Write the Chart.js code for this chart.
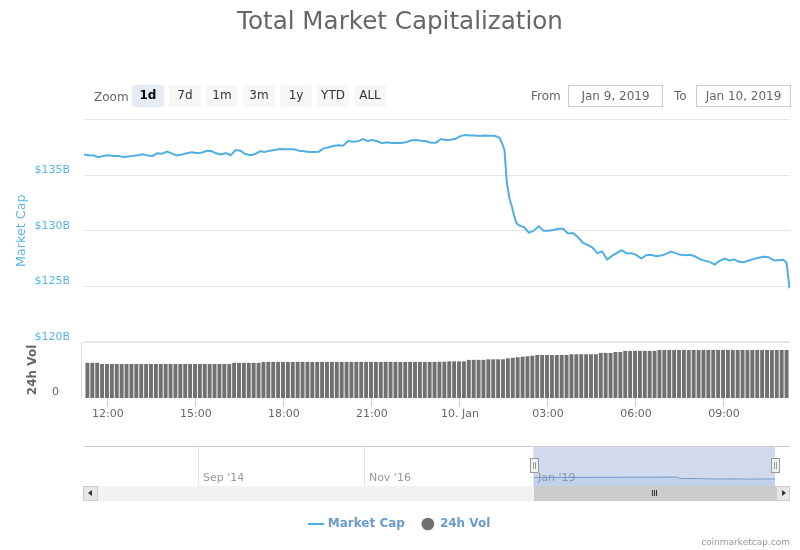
<!DOCTYPE html>
<html><head><meta charset="utf-8">
<script src="https://cdn.jsdelivr.net/npm/chart.js@4"></script>
<style>
html,body{margin:0;padding:0;background:#fff;width:800px;height:550px;overflow:hidden;font-family:"DejaVu Sans",sans-serif}
canvas{position:absolute;left:0}
.a{position:absolute;box-sizing:border-box}
.btn{top:85px;height:22px;width:32px;background:#f7f7f7;color:#333;font-size:12px;line-height:21px;text-align:center;border-radius:2px}
.btn.on{background:#e6ebf5;font-weight:bold;color:#000}
.lbl{color:#666;font-size:12px;line-height:22px;top:85px}
.inp{top:85px;height:22px;width:95px;border:1px solid #ccc;color:#666;font-size:12px;line-height:20px;text-align:center}
.handle{top:458px;width:9px;height:15px;background:#f2f2f2;border:1px solid #999}
.handle i{position:absolute;top:3px;height:7px;width:1px;background:#999}
</style></head><body>
<canvas id="main" width="800" height="440" style="top:0"></canvas>
<canvas id="nav" width="800" height="100" style="top:440px"></canvas>

<div class="a lbl" style="left:94px;top:86px">Zoom</div>
<div class="a btn on" style="left:132px">1d</div>
<div class="a btn" style="left:169px">7d</div>
<div class="a btn" style="left:206px">1m</div>
<div class="a btn" style="left:243px">3m</div>
<div class="a btn" style="left:280px">1y</div>
<div class="a btn" style="left:317px">YTD</div>
<div class="a btn" style="left:354px">ALL</div>
<div class="a lbl" style="left:531px">From</div>
<div class="a inp" style="left:568px">Jan 9, 2019</div>
<div class="a lbl" style="left:674px">To</div>
<div class="a inp" style="left:696px">Jan 10, 2019</div>

<div class="a" style="left:81px;top:342px;width:1px;height:56px;background:#ddd"></div>

<div class="a" style="left:534px;top:447px;width:241px;height:39px;background:rgba(102,133,194,.3)"></div>
<div class="a" style="left:83px;top:501px;width:707px;height:5px;background:#fff"></div>
<div class="a" style="left:83px;top:486px;width:707px;height:15px;background:#f2f2f2"></div>
<div class="a" style="left:534px;top:486px;width:242px;height:15px;background:#ccc"></div>
<div class="a" style="left:652px;top:490px;width:1px;height:6px;background:#333;box-shadow:2px 0 #333,4px 0 #333"></div>
<div class="a" style="left:83px;top:486px;width:15px;height:15px;background:#e6e6e6;border:1px solid #ccc"></div>
<div class="a" style="left:88px;top:490px;width:0;height:0;border:3px solid transparent;border-right:4px solid #333;border-left:0"></div>
<div class="a" style="left:776px;top:486px;width:14px;height:15px;background:#e6e6e6;border:1px solid #ccc"></div>
<div class="a" style="left:782px;top:490px;width:0;height:0;border:3px solid transparent;border-left:4px solid #333;border-right:0"></div>
<div class="a handle" style="left:530px"><i style="left:2px"></i><i style="left:4px"></i></div>
<div class="a handle" style="left:771px"><i style="left:2px"></i><i style="left:4px"></i></div>
<div class="a" style="right:10px;top:535px;font-size:9px;line-height:14px;color:#999">coinmarketcap.com</div>

<script>
const titleText = "Total Market Capitalization";
const seriesNames = ["Market Cap", "24h Vol"];

// minutes after midnight on 9 Jan 2019
const capTimes = [671,681,691,701,711,721,731,741,751,761,771,781,791,801,811,821,831,841,851,861,871,881,891,901,911,921,931,941,951,961,971,981,991,1001,1011,1021,1031,1041,1051,1061,1071,1081,1091,1101,1111,1121,1131,1141,1151,1161,1171,1181,1191,1201,1211,1221,1231,1241,1251,1261,1271,1281,1291,1301,1311,1321,1331,1341,1351,1361,1371,1381,1391,1401,1411,1421,1431,1441,1451,1461,1471,1481,1491,1501,1511,1521,1526,1531,1536,1541,1546,1551,1556,1561,1571,1581,1591,1601,1611,1621,1631,1641,1651,1661,1671,1681,1691,1701,1711,1721,1731,1741,1751,1761,1771,1781,1791,1801,1811,1821,1831,1841,1851,1861,1871,1881,1891,1901,1911,1921,1931,1941,1951,1961,1971,1981,1991,2001,2011,2021,2031,2041,2051,2061,2071,2081,2091,2101,2108,2114];
// $ billions
const capValues = [136.85,136.79,136.76,136.61,136.73,136.79,136.73,136.73,136.64,136.67,136.73,136.79,136.88,136.76,136.73,136.96,136.93,137.11,136.93,136.76,136.85,136.96,137.05,136.99,137.02,137.17,137.17,136.96,136.85,136.99,136.79,137.26,137.20,136.90,136.79,136.90,137.14,137.08,137.20,137.26,137.35,137.32,137.32,137.32,137.20,137.14,137.08,137.08,137.11,137.41,137.50,137.62,137.68,137.65,138.07,138.01,138.04,138.24,138.07,138.15,138.04,137.86,137.95,137.89,137.89,137.89,137.98,138.13,138.15,138.10,138.04,137.92,137.92,138.24,138.15,138.18,138.27,138.51,138.60,138.57,138.57,138.51,138.57,138.54,138.54,138.36,137.86,137.26,134.29,132.95,132.20,131.31,130.65,130.48,130.33,129.82,130.00,130.39,130.00,130.00,130.06,130.18,130.18,129.76,129.79,129.43,128.93,128.72,128.48,127.98,128.13,127.41,127.74,128.01,128.24,127.95,127.98,127.80,127.50,127.80,127.83,127.71,127.77,127.89,128.13,127.98,127.83,127.80,127.83,127.68,127.44,127.29,127.20,126.96,127.29,127.50,127.32,127.41,127.20,127.17,127.32,127.47,127.56,127.65,127.62,127.35,127.35,127.38,127.14,124.82];
const volTimes = [678,688,698,708,718,728,738,748,758,768,778,788,798,808,818,828,838,848,858,868,878,888,898,908,918,928,938,948,958,968,978,988,998,1008,1018,1028,1038,1048,1058,1068,1078,1088,1098,1108,1118,1128,1138,1148,1158,1168,1178,1188,1198,1208,1218,1228,1238,1248,1258,1268,1278,1288,1298,1308,1318,1328,1338,1348,1358,1368,1378,1388,1398,1408,1418,1428,1438,1448,1458,1468,1478,1488,1498,1508,1518,1528,1538,1548,1558,1568,1578,1588,1598,1608,1618,1628,1638,1648,1658,1668,1678,1688,1698,1708,1718,1728,1738,1748,1758,1768,1778,1788,1798,1808,1818,1828,1838,1848,1858,1868,1878,1888,1898,1908,1918,1928,1938,1948,1958,1968,1978,1988,1998,2008,2018,2028,2038,2048,2058,2068,2078,2088,2098,2108];
const volValues = [18.8,18.8,18.8,18.2,18.2,18.2,18.2,18.2,18.2,18.2,18.2,18.2,18.2,18.2,18.2,18.2,18.2,18.2,18.2,18.2,18.2,18.2,18.2,18.2,18.2,18.2,18.2,18.2,18.2,18.2,18.8,18.8,18.8,18.8,18.8,18.8,19.3,19.3,19.3,19.3,19.3,19.3,19.3,19.3,19.3,19.3,19.3,19.3,19.3,19.3,19.3,19.3,19.3,19.3,19.3,19.3,19.3,19.3,19.3,19.3,19.3,19.3,19.3,19.3,19.3,19.3,19.3,19.3,19.3,19.3,19.3,19.3,19.4,19.4,19.6,19.6,19.6,19.6,20.4,20.4,20.4,20.4,20.7,20.7,20.7,20.7,21.2,21.5,21.8,22.1,22.3,22.6,23.0,23.0,23.0,23.0,23.0,23.0,23.0,23.4,23.4,23.4,23.4,23.4,23.4,24.1,24.1,24.1,24.6,24.6,25.2,25.2,25.2,25.2,25.2,25.2,25.2,25.7,25.7,25.7,25.7,25.7,25.7,25.7,25.7,25.7,25.7,25.7,25.7,25.7,25.7,25.7,25.7,25.7,25.7,25.7,25.7,25.7,25.7,25.7,25.7,25.7,25.7,25.7];

const xTickValues = [720,900,1080,1260,1440,1620,1800,1980];
const xTickLabels = ["12:00","15:00","18:00","21:00","10. Jan","03:00","06:00","09:00"];
const capTickValues = [120,125,130,135,140];
const capTickLabels = ["$120B","$125B","$130B","$135B",""];
const volTickValues = [0,30];
const volTickLabels = ["0",""];
const navTickValues = [-1336,-342,671];
const navTickLabels = ["Sep '14","Nov '16","Jan '19"];

const BLUE = "#50afe1", GREY = "#707070", FONT = '"DejaVu Sans", sans-serif';
Chart.defaults.font.family = FONT;
Chart.defaults.animation = false;

const pairs = (xs, ys) => xs.map((x, i) => ({x, y: ys[i]}));
const setTicks = (vals) => (s) => { s.ticks = vals.map(value => ({value})); };
const labelOf = (vals, labels) => (v) => { const i = vals.indexOf(v); return i < 0 ? "" : labels[i]; };
const fixW = (w) => (s) => { s.width = w; };
const fixH = (h) => (s) => { s.height = h; };

new Chart(document.getElementById("main"), {
  type: "bar",
  data: { datasets: [
    { type: "line", label: seriesNames[0], data: pairs(capTimes, capValues), yAxisID: "yCap", xAxisID: "x",
      borderColor: BLUE, borderWidth: 2, pointRadius: 0, tension: 0, order: 0 },
    { type: "bar", label: seriesNames[1], data: pairs(volTimes, volValues), yAxisID: "yVol", xAxisID: "x",
      backgroundColor: GREY, barPercentage: 0.8, categoryPercentage: 1, order: 1 }
  ]},
  options: {
    responsive: false, devicePixelRatio: 1,
    plugins: {
      legend: { display: false },
      title: { display: true, text: titleText, color: "#666", font: { size: 24.6, weight: "normal" }, padding: { top: 8, bottom: 82 } },
      tooltip: { enabled: false }
    },
    scales: {
      x: { type: "linear", min: 671, max: 2115, offset: false, afterBuildTicks: setTicks(xTickValues), afterFit: fixH(42),
        grid: { offset: false, drawOnChartArea: false, tickLength: 9, color: "#ccc", drawTicks: true },
        border: { display: false },
        ticks: { autoSkip: false, maxRotation: 0, padding: 1, color: "#666", font: { size: 11 }, callback: labelOf(xTickValues, xTickLabels) } },
      yVol: { type: "linear", position: "left", stack: "p", stackWeight: 56, min: 0, max: 30, afterBuildTicks: setTicks(volTickValues), afterFit: fixW(84),
        grid: { display: false }, border: { display: false },
        title: { display: true, text: seriesNames[1], color: "#666", font: { size: 12, weight: "bold" }, padding: { top: 26, bottom: 0 } },
        ticks: { autoSkip: false, color: "#666", font: { size: 11 }, padding: 17, labelOffset: -6, callback: labelOf(volTickValues, volTickLabels) } },
      yCap: { type: "linear", position: "left", stack: "p", stackWeight: 222, min: 120, max: 140, afterBuildTicks: setTicks(capTickValues), afterFit: fixW(84),
        grid: { offset: false, color: "#e6e6e6", drawTicks: false, lineWidth: (c) => (c.tick && c.tick.value === 120) ? 2 : 1 },
        border: { display: false },
        title: { display: true, text: seriesNames[0], color: "#5ab5e6", font: { size: 12.7 }, padding: { top: 14, bottom: 0 } },
        ticks: { autoSkip: false, color: "#5ab5e6", font: { size: 11 }, padding: 14, labelOffset: -5, callback: labelOf(capTickValues, capTickLabels) } },
      yR: { type: "linear", position: "right", afterFit: fixW(10), grid: { display: false }, border: { display: false }, ticks: { display: false } }
    }
  }
});

const lineSwatch = document.createElement("canvas");
lineSwatch.width = 16; lineSwatch.height = 2;
const sw = lineSwatch.getContext("2d"); sw.fillStyle = BLUE; sw.fillRect(0, 0, 16, 2);

new Chart(document.getElementById("nav"), {
  type: "line",
  data: { datasets: [
    { label: seriesNames[0], data: pairs(capTimes, capValues), borderColor: "#6a9bd0", borderWidth: 1, pointRadius: 0, tension: 0,
      fill: "origin", backgroundColor: "rgba(124,181,236,.15)" }
  ]},
  options: {
    responsive: false, devicePixelRatio: 1,
    layout: { padding: { top: 7 } },
    plugins: {
      tooltip: { enabled: false },
      legend: { display: true, position: "bottom",
        labels: {
          usePointStyle: true, boxWidth: 13, boxHeight: 9, padding: 17,
          color: "#6a9bcc", font: { size: 12, weight: "bold" },
          generateLabels: () => [
            { text: seriesNames[0], pointStyle: lineSwatch, fillStyle: BLUE, strokeStyle: BLUE, lineWidth: 0, fontColor: "#6a9bcc" },
            { text: seriesNames[1], pointStyle: "circle", fillStyle: GREY, strokeStyle: GREY, lineWidth: 0, fontColor: "#6a9bcc" }
          ]
        } }
    },
    scales: {
      x: { type: "linear", min: -2025, max: 2205, offset: false, position: { y: 172.7 }, afterBuildTicks: setTicks(navTickValues),
        grid: { offset: false, color: "#e6e6e6", drawTicks: false }, border: { display: false },
        ticks: { autoSkip: false, maxRotation: 0, align: "start", labelOffset: 4, padding: 0, color: "#999", font: { size: 11 }, callback: labelOf(navTickValues, navTickLabels) } },
      y: { type: "linear", position: "left", min: 0, max: 313, afterFit: fixW(84), grid: { display: false }, border: { display: false }, ticks: { display: false } },
      yR: { type: "linear", position: "right", afterFit: fixW(10), grid: { display: false }, border: { display: false }, ticks: { display: false } }
    }
  },
  plugins: [{ id: "navTop", afterDraw(c) { const g = c.ctx, a = c.chartArea; g.save(); g.strokeStyle = "#ccc"; g.beginPath(); g.moveTo(a.left, a.top - .5); g.lineTo(a.right, a.top - .5); g.stroke(); g.restore(); } }]
});
</script>
</body></html>
